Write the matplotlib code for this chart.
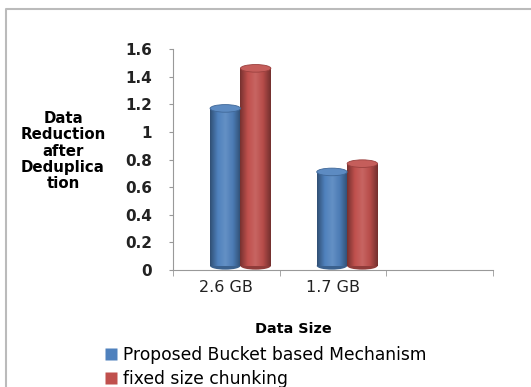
"""
Data reduction after deduplication, cylinder-style grouped bars
"""
import numpy as np
from matplotlib import pyplot as plt, patches, colors
from matplotlib.lines import Line2D

categories = ["2.6 GB", "1.7 GB", ""]
bucket = [1.17, 0.71]
fixed = [1.46, 0.77]
series_names = ["Proposed Bucket based Mechanism", "fixed size chunking"]
yticks = [0, 0.2, 0.4, 0.6, 0.8, 1, 1.2, 1.4, 1.6]
ytick_labels = ["0", "0.2", "0.4", "0.6", "0.8", "1", "1.2", "1.4", "1.6"]

BLUE = "#4F81BD"
RED = "#C0504D"
W = 531
H = 387


def shade(c, f):
    r, g, b = colors.to_rgb(c)
    if f < 1:
        return (r * f, g * f, b * f)
    f = f - 1
    return (r + (1 - r) * f, g + (1 - g) * f, b + (1 - b) * f)


def cylinder(ax, x, width, value, color):
    """
    Draws a bar with a cylinder look: gradient body and an elliptic top
    """
    x0 = x - width / 2
    body = patches.Rectangle((x0, 0.03), width, value - 0.03, facecolor="none",
                             edgecolor="none")
    ax.add_patch(body)
    cmap = colors.LinearSegmentedColormap.from_list(
        "cyl", [shade(color, 0.62), shade(color, 1.0), shade(color, 1.12),
                shade(color, 0.95), shade(color, 0.6)])
    grad = np.linspace(0, 1, 64).reshape(1, -1)
    im = ax.imshow(grad, cmap=cmap, aspect="auto",
                   extent=(x0, x0 + width, 0.03, value), zorder=2)
    im.set_clip_path(body)
    eh = 0.055
    ax.add_patch(patches.Ellipse((x, 0.03), width, eh, facecolor=shade(color, 0.75),
                                 edgecolor="none", zorder=1.9))
    ax.add_patch(patches.Ellipse((x, value), width, eh, facecolor=shade(color, 1.08),
                                 edgecolor=shade(color, 0.8), linewidth=0.6, zorder=3))


fig = plt.figure(figsize=(W / 100, H / 100), dpi=100)
ax = fig.add_axes([173 / W, 1 - 270 / H, (493 - 173) / W, (270 - 49) / H])

width = 0.285
pos = np.arange(len(bucket))
for i in pos:
    cylinder(ax, i - 0.01, width, bucket[i], BLUE)
    cylinder(ax, i + 0.275, width, fixed[i], RED)

ax.set_xlim(-0.5, len(categories) - 0.5)
ax.set_ylim(0, 1.6)

ax.set_yticks(yticks)
ax.set_yticklabels(ytick_labels, fontsize=11, fontweight="bold", color="#222222")
ax.set_xticks(np.arange(len(categories)))
ax.set_xticklabels(categories, fontsize=11.5, color="#222222")
ax.set_xticks(np.arange(len(categories) + 1) - 0.5, minor=True)
ax.tick_params(axis="x", which="major", length=0, pad=7)
ax.tick_params(axis="x", which="minor", length=4, color="#999999", direction="out")
ax.tick_params(axis="y", length=3, color="#999999", pad=12)

for s in ["top", "right"]:
    ax.spines[s].set_visible(False)
for s in ["left", "bottom"]:
    ax.spines[s].set_color("#999999")

fig.text(293 / W, 1 - 329 / H, "Data Size", ha="center", va="center",
         fontsize=10.4, fontweight="bold")
fig.text(63 / W, 1 - 151 / H, "Data\nReduction\nafter\nDeduplica\ntion",
         ha="center", va="center", fontsize=10.8, fontweight="bold",
         linespacing=1.1)

handles = [Line2D([], [], marker="s", linestyle="none", markersize=8.5,
                  markerfacecolor=c, markeredgecolor="none") for c in (BLUE, RED)]
fig.legend(handles, series_names, loc="upper left",
           bbox_to_anchor=(101 / W, 1 - 346 / H), frameon=False, fontsize=12.3,
           handletextpad=0.1, labelspacing=0.36, borderaxespad=0,
           handlelength=1.2, borderpad=0)

# chart frame, only top and left edges are inside the picture
fig.add_artist(Line2D([6 / W, 6 / W, 1], [0, 1 - 9 / H, 1 - 9 / H],
                      transform=fig.transFigure, color="#bbbbbb", linewidth=1.5))

fig.savefig("out.png", dpi=100)
